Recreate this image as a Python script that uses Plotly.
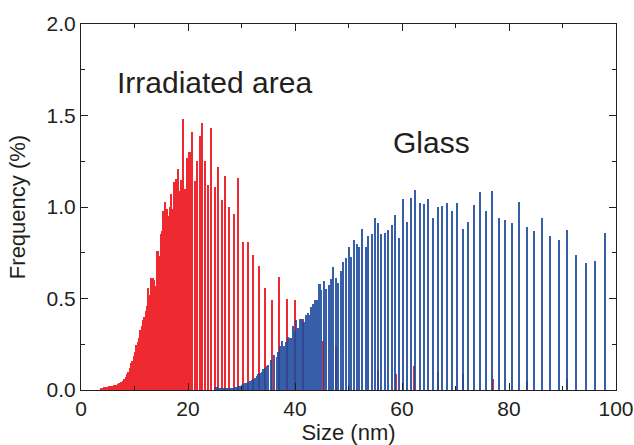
import numpy as np
import plotly.graph_objects as go

# ---------------- data ----------------
red_size = [3.74, 4.06, 4.36, 4.67, 4.99, 5.29, 5.61, 5.92, 6.22, 6.54, 6.86, 7.16,
            7.48, 7.79, 8.09, 8.36, 8.60, 8.84, 9.10, 9.35, 9.59, 9.85, 10.09, 10.34,
            10.60, 10.84, 11.08, 11.35, 11.59, 11.83, 12.09, 12.28, 12.47, 12.71, 12.95,
            13.14, 13.40, 13.64, 13.89, 14.15, 14.39, 14.64, 14.90, 15.14, 15.38, 15.64,
            15.89, 16.13, 16.39, 16.64, 16.88, 17.14, 17.44, 17.76, 18.07, 18.37, 18.69,
            19.12, 19.38, 19.94, 20.32, 20.80, 21.25, 21.68, 22.19, 22.67, 23.23, 23.74,
            24.36, 24.99, 25.55, 26.30, 26.97, 27.72, 28.54, 29.35, 30.22, 31.16, 32.21,
            33.27, 34.45, 35.64, 37.01, 38.45, 40.00, 41.55, 45.29, 47.66, 55.46, 58.88,
            62.30, 66.67, 71.35, 76.95, 83.31, 90.79]
red_freq = [0.010, 0.012, 0.014, 0.016, 0.018, 0.020, 0.022, 0.024, 0.026, 0.030, 0.034, 0.038,
            0.044, 0.050, 0.060, 0.070, 0.085, 0.100, 0.120, 0.150, 0.160, 0.185, 0.210, 0.245,
            0.265, 0.285, 0.330, 0.350, 0.380, 0.400, 0.430, 0.460, 0.555, 0.485, 0.520,
            0.610, 0.610, 0.600, 0.570, 0.760, 0.760, 0.730, 0.855, 0.870, 0.980, 1.030,
            0.900, 0.990, 0.950, 1.000, 1.070, 0.990, 1.135, 1.155, 1.210, 1.090, 1.145,
            1.480, 1.100, 1.270, 1.300, 1.410, 1.140, 1.250, 1.390, 1.460, 1.250, 1.120,
            1.430, 1.110, 1.220, 1.040, 1.170, 1.000, 0.960, 1.160, 0.810, 0.810, 0.740,
            0.680, 0.560, 0.490, 0.620, 0.500, 0.490, 0.390, 0.270, 0.240, 0.110, 0.090,
            0.130, 0.100, 0.085, 0.060, 0.050, 0.060]

blue_size = [25.05, 25.36, 25.66, 25.98, 26.30, 26.60, 26.92, 27.23, 27.53, 27.85, 28.17,
             28.47, 28.79, 29.10, 29.40, 29.72, 30.04, 30.34, 30.65, 30.97, 31.27, 31.59,
             31.91, 32.21, 32.52, 32.84, 33.14, 33.46, 33.78, 34.07, 34.39, 34.71, 35.01,
             35.51, 36.13, 36.58, 36.88, 37.20, 37.57, 37.94, 38.26, 38.75, 39.20, 39.57,
             39.87, 40.19, 40.62, 40.93, 41.36, 41.74, 42.06, 42.37, 42.67, 43.12, 43.50,
             43.87, 44.24, 44.62, 44.99, 45.42, 45.85, 46.30, 46.73, 47.16, 47.61, 48.04,
             48.54, 48.97, 49.53, 50.04, 50.52, 51.03, 51.53, 52.02, 52.58, 53.21, 53.70,
             54.34, 54.95, 55.51, 56.13, 56.77, 57.44, 58.07, 58.75, 59.44, 60.13, 60.93,
             61.68, 62.43, 63.31, 64.11, 64.86, 65.74, 66.67, 67.53, 68.47, 69.40, 70.34,
             71.35, 72.39, 73.46, 74.58, 75.70, 76.88, 78.07, 79.31, 80.62, 81.93, 83.31,
             84.73, 86.11, 87.72, 89.29, 90.90, 92.58, 94.34, 96.13, 98.00]
blue_freq = [0.018, 0.015, 0.013, 0.012, 0.011, 0.010, 0.010, 0.010, 0.010, 0.010, 0.011,
             0.012, 0.014, 0.017, 0.020, 0.023, 0.027, 0.031, 0.036, 0.040, 0.045, 0.050,
             0.056, 0.062, 0.068, 0.075, 0.085, 0.095, 0.100, 0.115, 0.120, 0.130, 0.134,
             0.163, 0.190, 0.180, 0.210, 0.240, 0.270, 0.240, 0.260, 0.290, 0.285, 0.350,
             0.325, 0.380, 0.340, 0.390, 0.390, 0.370, 0.410, 0.420, 0.410, 0.455, 0.470,
             0.490, 0.490, 0.580, 0.545, 0.595, 0.550, 0.575, 0.605, 0.670, 0.610, 0.585,
             0.650, 0.700, 0.720, 0.780, 0.725, 0.820, 0.800, 0.780, 0.880, 0.780, 0.840,
             0.850, 0.940, 0.910, 0.850, 0.860, 0.875, 0.900, 0.955, 0.830, 1.045, 0.920,
             1.050, 1.095, 1.020, 1.015, 1.045, 0.940, 1.000, 1.005, 1.020, 0.980, 1.020,
             0.880, 0.920, 1.010, 1.080, 0.980, 1.085, 0.940, 0.930, 0.915, 1.030, 0.890,
             0.870, 0.940, 0.840, 0.820, 0.875, 0.740, 0.695, 0.705, 0.860]

label_irr = "Irradiated area"
label_glass = "Glass"
x_title = "Size (nm)"
y_title = "Frequency (%)"


def bar_widths(xs, thin=0.18, dense=0.4):
    xs = np.asarray(xs, dtype=float)
    gaps = np.diff(xs)
    nxt = np.append(gaps, gaps[-1])
    prv = np.insert(gaps, 0, gaps[0])
    sp = np.minimum(nxt, prv)
    return np.where(sp < dense, sp * 0.8, thin)


INK = "#231f20"
FONT = "Liberation Sans, Arial, sans-serif"

fig = go.Figure()
fig.add_trace(go.Bar(x=red_size, y=red_freq, width=bar_widths(red_size),
                     marker=dict(color="#ee2a30", line=dict(width=0)),
                     name="Irradiated area"))
fig.add_trace(go.Bar(x=blue_size, y=blue_freq, width=bar_widths(blue_size),
                     marker=dict(color="#1c4a9e", line=dict(width=0)), opacity=0.88,
                     name="Glass"))

fig.add_annotation(x=6.3, y=1.68, xref="x", yref="y", text=label_irr, showarrow=False,
                   xanchor="left", yanchor="middle", font=dict(family=FONT, size=30, color=INK))
fig.add_annotation(x=58.0, y=1.355, xref="x", yref="y", text=label_glass, showarrow=False,
                   xanchor="left", yanchor="middle", font=dict(family=FONT, size=30, color=INK))

axis_common = dict(showline=True, linecolor=INK, linewidth=1, mirror="ticks",
                   ticks="inside", ticklen=7, tickwidth=1, tickcolor=INK,
                   showgrid=False, zeroline=False, automargin=False,
                   tickfont=dict(family=FONT, size=21, color=INK))

fig.update_xaxes(range=[0, 100], tick0=0, dtick=20,
                 minor=dict(dtick=10, ticks="inside", ticklen=4, tickcolor=INK, showgrid=False),
                 title=dict(text=x_title, font=dict(family=FONT, size=22, color=INK), standoff=9),
                 **axis_common)
fig.update_yaxes(range=[0, 2.0], tick0=0, dtick=0.5, tickformat=".1f",
                 minor=dict(dtick=0.25, ticks="inside", ticklen=4, tickcolor=INK, showgrid=False),
                 title=dict(text=y_title, font=dict(family=FONT, size=22, color=INK), standoff=14),
                 **axis_common)

fig.update_layout(width=634, height=445, barmode="overlay", bargap=0,
                  showlegend=False, plot_bgcolor="white", paper_bgcolor="white",
                  margin=dict(l=81, r=18, t=24, b=54.5))

# remove the browser's default 8 px body margin so the figure fills the window exactly
fig.write_html("out.html", config={"displayModeBar": False},
               post_script="document.body.style.margin='0';")
